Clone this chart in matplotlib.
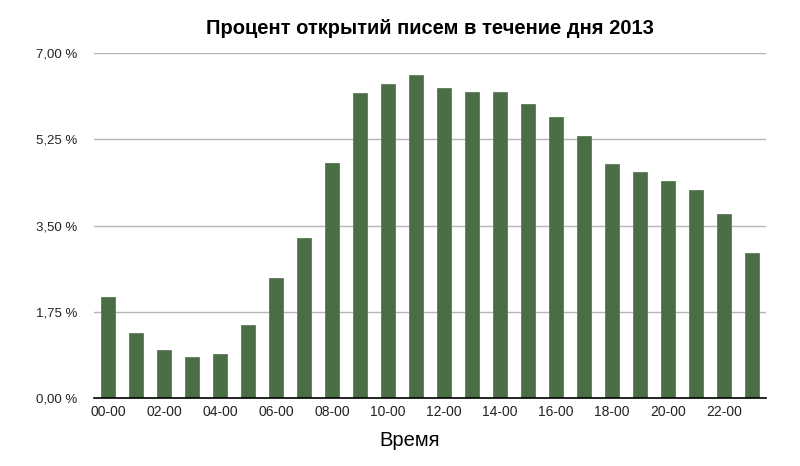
import numpy as np
import matplotlib.pyplot as plt

hours = list(range(24))
share = [2.05, 1.32, 0.97, 0.83, 0.89, 1.48, 2.43, 3.25, 4.77, 6.19, 6.37, 6.55,
         6.29, 6.21, 6.21, 5.97, 5.70, 5.32, 4.75, 4.59, 4.40, 4.22, 3.73, 2.94]
tick_hours = [0, 2, 4, 6, 8, 10, 12, 14, 16, 18, 20, 22]
tick_labels = ['%02d-00' % h for h in tick_hours]
y_ticks = [0, 1.75, 3.5, 5.25, 7.0]

plt.rcParams['font.family'] = ['Liberation Sans', 'DejaVu Sans']

fig = plt.figure(figsize=(8, 4.66), dpi=100)
ax = fig.add_axes([0.1175, 0.146, 0.84, 0.740])

ax.bar(hours, share, width=0.5, color='#4b6d46', edgecolor='#5a7c55', linewidth=0.6, zorder=3)

ax.set_xlim(-0.5, 23.5)
ax.set_ylim(0, 7)
ax.set_yticks(y_ticks)
ax.set_yticklabels([('%.2f %%' % v).replace('.', ',') for v in y_ticks], fontsize=9.5)
ax.set_xticks(tick_hours)
ax.set_xticklabels(tick_labels, fontsize=10)
ax.tick_params(axis='y', length=0, pad=12, colors='#222222')
ax.tick_params(axis='x', length=0, pad=5, colors='#222222')
ax.grid(axis='y', color='#b5b5b5', linewidth=1.0, zorder=0)

for s in ['top', 'right', 'left']:
    ax.spines[s].set_visible(False)
ax.spines['bottom'].set_color('black')
ax.spines['bottom'].set_linewidth(1.2)
ax.spines['bottom'].set_zorder(4)

ax.set_xlabel('Время', fontsize=14.5)
ax.xaxis.set_label_coords(0.47, -0.095)
ax.set_title('Процент открытий писем в течение дня 2013', fontsize=14.5,
             fontweight='bold', pad=14)

fig.savefig('out.png', dpi=100)
